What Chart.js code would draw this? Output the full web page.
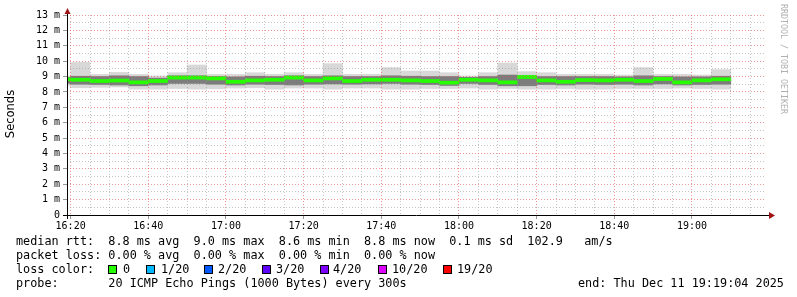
<!DOCTYPE html>
<html>
<head>
<meta charset="utf-8">
<script src="https://cdn.jsdelivr.net/npm/chart.js@4"></script>
<style>
  html, body { margin: 0; padding: 0; background: #fff; }
</style>
</head>
<body>
<canvas id="chart" width="797" height="297"></canvas>
<script>
// 5 minute slots (start time of each slot)
const slots = ["16:15","16:20","16:25","16:30","16:35","16:40","16:45","16:50","16:55",
  "17:00","17:05","17:10","17:15","17:20","17:25","17:30","17:35","17:40","17:45","17:50","17:55",
  "18:00","18:05","18:10","18:15","18:20","18:25","18:30","18:35","18:40","18:45","18:50","18:55",
  "19:00","19:05"];
// ms
const maxMs    = [9.05,9.92,9.14,9.27,9.14,9.04,9.25,9.75,9.14,9.14,9.25,9.14,9.25,9.14,9.84,9.14,9.14,9.58,
  9.36,9.36,9.25,9.04,9.25,9.88,9.32,9.25,9.14,9.14,9.14,9.10,9.58,9.14,9.14,9.10,9.45];
const upperMs  = [8.95,9.02,9.00,9.05,9.00,8.90,9.05,9.05,9.00,8.98,9.02,9.00,9.05,9.00,9.05,9.00,9.00,9.05,
  9.02,9.00,9.00,8.95,9.00,9.10,9.05,9.00,9.00,9.00,9.00,8.98,9.05,9.00,8.98,8.98,9.02];
const medianMs = [8.82,8.79,8.71,8.74,8.62,8.71,8.93,8.93,8.88,8.66,8.75,8.79,8.93,8.75,8.88,8.71,8.79,8.79,
  8.75,8.71,8.60,8.79,8.75,8.62,8.97,8.75,8.66,8.77,8.75,8.79,8.71,8.84,8.62,8.75,8.82];
const lowerMs  = [8.55,8.50,8.48,8.45,8.40,8.45,8.55,8.55,8.50,8.45,8.50,8.48,8.45,8.50,8.52,8.50,8.52,8.55,
  8.50,8.48,8.42,8.55,8.48,8.40,8.40,8.48,8.45,8.50,8.48,8.50,8.45,8.52,8.45,8.48,8.50];
const minMs    = [8.40,8.27,8.30,8.32,8.18,8.18,8.22,8.18,8.20,8.25,8.27,8.18,8.25,8.25,8.18,8.25,8.25,8.18,
  8.18,8.22,8.22,8.25,8.18,8.22,8.18,8.18,8.22,8.18,8.18,8.22,8.22,8.22,8.25,8.22,8.18];

const yTicks = [0,1,2,3,4,5,6,7,8,9,10,11,12,13];
const lossLabels = ["0","1/20","2/20","3/20","4/20","10/20","19/20"];
const lossColors = ["#26ff00","#00b8ff","#0059ff","#5e00ff","#7e00ff","#dd00ff","#ff0000"];

const base = 16 * 60 + 20;
function toMin(s) { const p = s.split(":").map(Number); return p[0] * 60 + p[1] - base; }
function fmt(m) { const t = base + m; return Math.floor(t / 60) + ":" + String(t % 60).padStart(2, "0"); }
const xs = slots.map(s => toMin(s) + 2.5);

function band(lo, hi) { return xs.map((x, i) => ({ x: x, y: [lo[i], hi[i]] })); }
const greenLine = xs.map((x, i) => ({ x: x, y: [medianMs[i] - 0.1, medianMs[i] + 0.1] }));

const mono = '"DejaVu Sans Mono", monospace';

const extras = {
  id: "extras",
  afterDraw(chart) {
    const c = chart.ctx;
    c.save();
    // axes
    c.strokeStyle = "#000";
    c.lineWidth = 1;
    c.beginPath();
    c.moveTo(67.5, 219); c.lineTo(67.5, 12);
    c.moveTo(63, 215.5); c.lineTo(770, 215.5);
    c.stroke();
    c.fillStyle = "#9e1414";
    c.beginPath();
    c.moveTo(64.5, 14); c.lineTo(70.5, 14); c.lineTo(67.5, 8); c.closePath(); c.fill();
    c.beginPath();
    c.moveTo(769, 212); c.lineTo(769, 219); c.lineTo(775, 215.5); c.closePath(); c.fill();

    // axis title
    c.fillStyle = "#000";
    c.font = '11.5px "DejaVu Sans", sans-serif';
    c.textAlign = "center";
    c.textBaseline = "middle";
    c.save();
    c.translate(11, 114); c.rotate(-Math.PI / 2);
    c.fillText("Seconds", 0, 0);
    c.restore();

    // watermark
    c.save();
    c.fillStyle = "#b0b0b0";
    c.font = "8.3px " + mono;
    c.textAlign = "left";
    c.translate(783, 4); c.rotate(Math.PI / 2);
    c.fillText("RRDTOOL / TOBI OETIKER", 0, 0);
    c.restore();

    // legend text
    c.fillStyle = "#000";
    c.font = "11.8px " + mono;
    c.textAlign = "left";
    c.textBaseline = "alphabetic";
    c.fillText("median rtt:  8.8 ms avg  9.0 ms max  8.6 ms min  8.8 ms now  0.1 ms sd  102.9   am/s", 16, 245);
    c.fillText("packet loss: 0.00 % avg  0.00 % max  0.00 % min  0.00 % now", 16, 259);
    c.fillText("loss color:", 16, 273);
    const boxX = [108, 146, 204, 262, 320, 378, 443];
    const labX = [123, 161, 218, 276, 333, 392, 457];
    lossLabels.forEach((l, i) => {
      c.fillStyle = lossColors[i];
      c.fillRect(boxX[i], 265, 8, 8);
      c.strokeStyle = "#000";
      c.strokeRect(boxX[i] + 0.5, 265.5, 8, 8);
      c.fillStyle = "#000";
      c.fillText(l, labX[i], 273);
    });
    c.fillText("probe:       20 ICMP Echo Pings (1000 Bytes) every 300s", 16, 287);
    c.fillText("end: Thu Dec 11 19:19:04 2025", 578, 287);
    c.restore();
  }
};

new Chart(document.getElementById("chart"), {
  type: "bar",
  data: {
    datasets: [
      { data: greenLine, backgroundColor: "#26ff00", order: 0 },
      { data: band(lowerMs, upperMs), backgroundColor: "#7c7c7c", order: 1 },
      { data: band(minMs, maxMs), backgroundColor: "#d8d8d8", order: 2 }
    ]
  },
  options: {
    responsive: false,
    devicePixelRatio: 1,
    animation: false,
    layout: { padding: { left: 0, right: 31, top: 15, bottom: 0 } },
    datasets: {
      bar: { grouped: false, barPercentage: 1, categoryPercentage: 1, borderWidth: 0 }
    },
    plugins: { legend: { display: false }, tooltip: { enabled: false } },
    scales: {
      x: {
        type: "linear",
        offset: false,
        min: -56 / 60,
        max: 180 - 56 / 60,
        afterFit(s) { s.height = 82; },
        afterBuildTicks(s) { const t = []; for (let m = 0; m <= 175; m += 5) t.push({ value: m }); s.ticks = t; },
        ticks: {
          autoSkip: false, maxRotation: 0, padding: 1,
          color: "#000", font: { family: mono, size: 10 },
          callback: v => (v % 20 === 0 ? fmt(v) : "")
        },
        grid: {
          z: 1, tickLength: 4, offset: false,
          color: ctx => (ctx.tick && ctx.tick.value % 20 === 0 ? "rgba(230,80,80,0.6)" : "rgba(150,150,150,0.55)"),
          tickColor: ctx => (ctx.tick && ctx.tick.value % 20 === 0 ? "#999" : "rgba(0,0,0,0)")
        },
        border: { display: false, dash: [1, 2] }
      },
      y: {
        min: 0, max: 13,
        afterFit(s) { s.width = 67; },
        afterBuildTicks(s) { const t = []; for (let v = 0; v <= 13; v += 0.5) t.push({ value: v }); s.ticks = t; },
        ticks: {
          autoSkip: false, padding: 3,
          color: "#000", font: { family: mono, size: 10 },
          callback: v => (yTicks.includes(v) ? (v === 0 ? "0" : v + " m") : "")
        },
        grid: {
          z: 1, tickLength: 4,
          color: ctx => (ctx.tick && Number.isInteger(ctx.tick.value) ? "rgba(230,80,80,0.6)" : "rgba(150,150,150,0.55)"),
          tickColor: ctx => (ctx.tick && Number.isInteger(ctx.tick.value) ? "#999" : "rgba(0,0,0,0)")
        },
        border: { display: false, dash: [1, 2] }
      }
    }
  },
  plugins: [extras]
});
</script>
</body>
</html>
